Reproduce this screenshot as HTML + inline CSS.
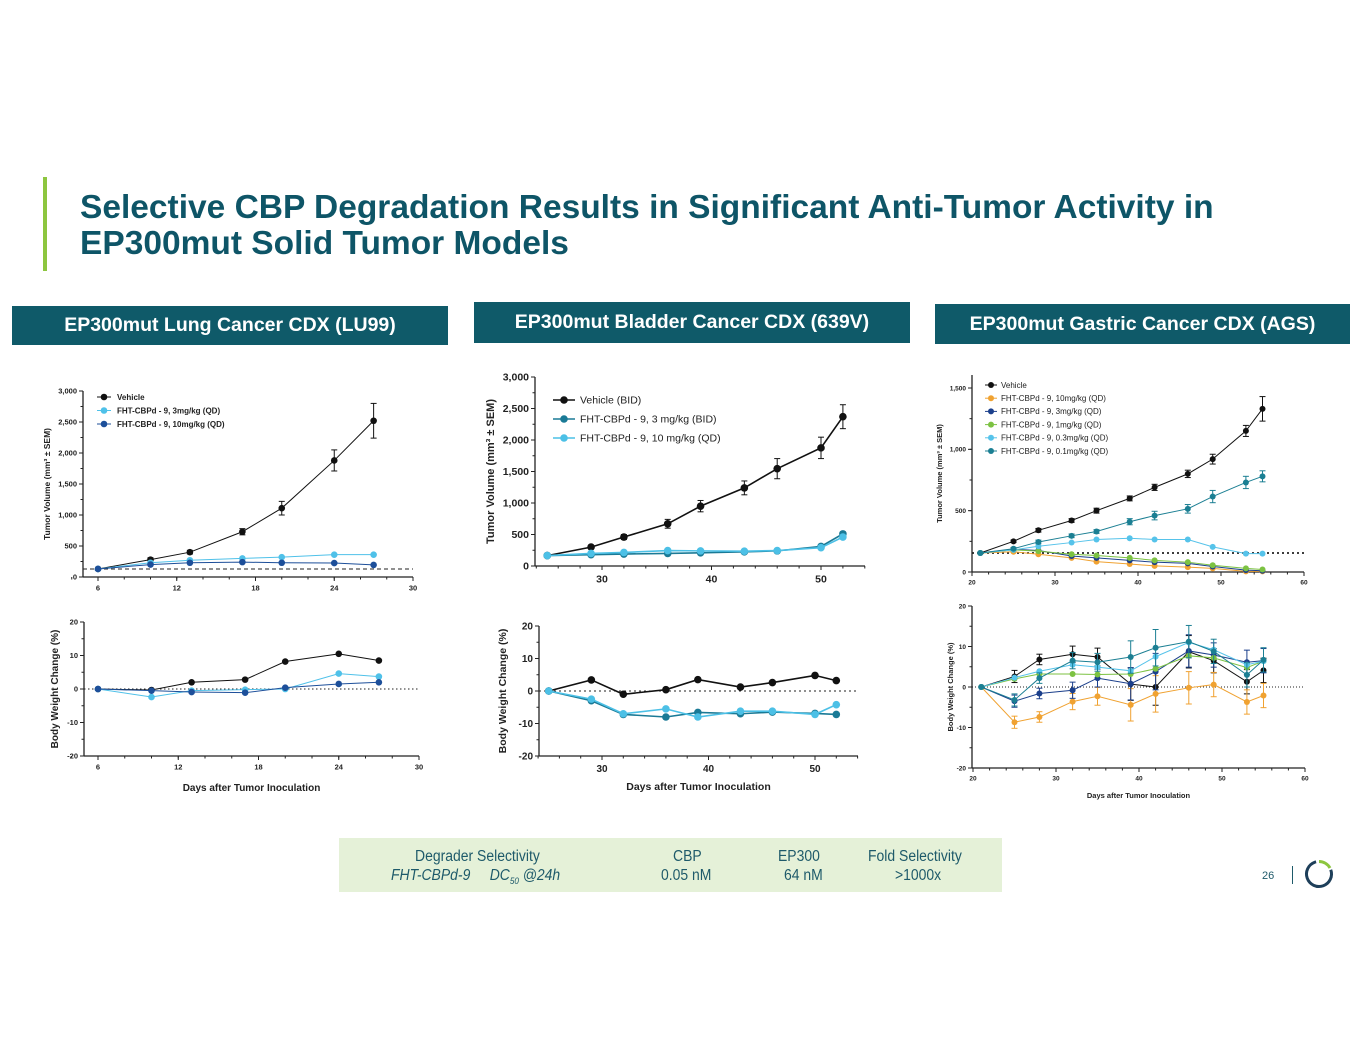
<!DOCTYPE html>
<html><head><meta charset="utf-8">
<style>
body{margin:0;background:#fff;font-family:"Liberation Sans",Arial,sans-serif;}
#page{position:relative;width:1365px;height:1055px;overflow:hidden;background:#fff;}
.hdr{position:absolute;background:#0f5a69;color:#fff;font-weight:bold;font-size:19.5px;display:flex;align-items:center;justify-content:center;}
svg text{font-family:"Liberation Sans",Arial,sans-serif;}
.tb{position:absolute;transform:scaleX(0.9);transform-origin:left top;white-space:nowrap}
</style></head><body>
<div id="page">
<div style="position:absolute;left:43px;top:177px;width:4px;height:94px;background:#8dc63f"></div>
<div style="position:absolute;left:80px;top:190px;color:#0e5567;font-weight:bold;font-size:33.5px;line-height:36px;white-space:nowrap">Selective CBP Degradation Results in Significant Anti-Tumor Activity in<br>EP300mut Solid Tumor Models</div>
<div class="hdr" style="left:12px;top:306px;width:436px;height:39px">EP300mut Lung Cancer CDX (LU99)</div>
<div class="hdr" style="left:474px;top:302px;width:436px;height:41px">EP300mut Bladder Cancer CDX (639V)</div>
<div class="hdr" style="left:935px;top:304px;width:415px;height:40px">EP300mut Gastric Cancer CDX (AGS)</div>
<svg id="plots" width="1365" height="1055" style="position:absolute;left:0;top:0"></svg>
<div style="position:absolute;left:339px;top:838px;width:663px;height:54px;background:#e5f1d8;color:#1e5a6a;font-size:15.5px">
 <div class="tb" style="left:76px;top:10px">Degrader Selectivity</div>
 <div class="tb" style="left:52px;top:29px;font-style:italic">FHT-CBPd-9 &nbsp;&nbsp;&nbsp;&nbsp;DC<sub style="font-size:9px">50</sub> @24h</div>
 <div class="tb" style="left:334px;top:10px">CBP</div>
 <div class="tb" style="left:322px;top:29px">0.05 nM</div>
 <div class="tb" style="left:439px;top:10px">EP300</div>
 <div class="tb" style="left:445px;top:29px">64 nM</div>
 <div class="tb" style="left:529px;top:10px">Fold Selectivity</div>
 <div class="tb" style="left:556px;top:29px">&gt;1000x</div>
</div>
<div style="position:absolute;left:1262px;top:870px;font-size:11px;color:#1e5a6a">26</div>
<div style="position:absolute;left:1292px;top:866px;width:1px;height:18px;background:#1e5a6a"></div>
<svg style="position:absolute;left:1303px;top:858px" width="32" height="32"><circle cx="16" cy="16" r="12.5" fill="none" stroke="#1e3f5a" stroke-width="3" stroke-dasharray="60 20" transform="rotate(-20 16 16)"/><path d="M16 3.5 A12.5 12.5 0 0 1 27 10" fill="none" stroke="#8dc63f" stroke-width="3"/></svg>
</div>
<script>
// ---- LU99 data ----
const luDays=[6,10,13,17,20,24,27];
const luVeh=[130,280,400,730,1110,1880,2520];
const luVehErr=[10,30,30,50,110,170,280];
const lu3=[130,230,270,300,320,360,360];
const lu10=[130,200,230,240,230,225,195];
const luBwVeh=[0,-0.3,2,2.8,8.2,10.5,8.5];
const luBw3=[0,-2.4,-0.5,-0.2,0,4.6,3.7];
const luBw10=[0,-0.5,-0.9,-1.1,0.4,1.5,2];
// ---- 639V data ----
const blDays=[25,29,32,36,39,43,46,50,52];
const blVeh=[165,300,460,670,950,1240,1545,1875,2370];
const blVehErr=[10,30,40,70,90,110,160,170,190];
const bl3=[165,180,190,200,210,225,240,310,510];
const bl10=[165,200,215,245,240,235,245,290,460];
const blBwVeh=[0,3.4,-1,0.4,3.5,1.2,2.6,4.8,3.2];
const blBw3=[0,-3,-7.2,-8,-6.6,-7,-6.5,-6.9,-7.2];
const blBw10=[0,-2.5,-7,-5.5,-8,-6.2,-6.2,-7.2,-4.2];
// ---- AGS data ----
const agDays=[21,25,28,32,35,39,42,46,49,53,55];
const agVeh=[155,250,340,420,500,600,690,800,920,1150,1330];
const agVehErr=[5,10,15,15,20,20,25,30,40,45,100];
const ag10=[155,165,145,115,85,65,50,40,30,5,5];
const ag3=[155,185,175,130,115,95,80,70,45,15,10];
const ag1=[155,180,170,145,135,115,95,80,55,30,20];
const ag03=[155,180,210,240,265,275,265,265,205,150,150];
const ag01=[155,190,245,295,330,410,460,515,615,730,780];
const ag01Err=[5,10,15,15,15,25,35,35,50,50,45];
const agBwVeh=[0,2.6,6.8,8.1,7.4,0.7,0,8.7,6.5,1.3,4.1];
const agBw10=[0,-8.7,-7.4,-3.6,-2.3,-4.4,-1.7,-0.2,0.6,-3.7,-2.1];
const agBw3=[0,-3.5,-1.6,-0.8,2.2,0.8,3.8,8.9,7.9,6.1,6.5];
const agBw1=[0,2,3.2,3.2,3.1,3.2,4.5,7.7,7.2,4.8,6.4];
const agBw03=[0,2.3,3.9,5.5,4.9,4,7.5,11,9.2,5.5,6.4];
const agBw01=[0,-3.2,2.2,6.5,6.1,7.4,9.7,11.2,8.8,3,6.7];
const agBwErr=[0,1.5,1.3,2,2.2,4,4.5,4,3,3,3];
// tick labels
const volTicks3000=[0,500,1000,1500,2000,2500,3000];
const volTicks1500=[0,500,1000,1500];
const bwTicks=[-20,-10,0,10,20];
const luXTicks=[6,12,18,24,30];
const blXTicks=[30,40,50];
const agXTicks=[20,30,40,50,60];

const NS='http://www.w3.org/2000/svg';
const svg=document.getElementById('plots');
function mk(tag,attrs,parent,name){const e=document.createElementNS(NS,tag);for(const k in attrs)e.setAttribute(k,attrs[k]);(parent||svg).appendChild(e);


return e;}
function fmt(v){return v>=1000?Math.floor(v/1000)+','+String(v%1000).padStart(3,'0'):String(v);}

function chart(c){
  const g=mk('g',{},svg,c.name);
  const sx=v=>c.px0+(v-c.x0)/(c.x1-c.x0)*(c.px1-c.px0);
  const sy=v=>c.py0+(v-c.y0)/(c.y1-c.y0)*(c.py1-c.py0);
  const fs=c.fs;
  mk('line',{x1:c.ax,y1:c.axTop,x2:c.ax,y2:c.py0,stroke:'#222','stroke-width':1.3},g,'y-axis');
  mk('line',{x1:c.ax,y1:c.py0,x2:c.axEnd,y2:c.py0,stroke:'#222','stroke-width':1.3},g,'x-axis');
  c.yTicks.forEach(v=>{const y=sy(v);mk('line',{x1:c.ax-4,y1:y,x2:c.ax,y2:y,stroke:'#222'},g,'y-tick');
    const t=mk('text',{x:c.ax-6,y:y+fs*0.35,'text-anchor':'end','font-size':fs,'font-weight':'bold',fill:'#222'},g,'y-tick-label');t.textContent=fmt(v);});
  if(c.yMinor)for(let v=c.y0;v<=c.y1;v+=c.yMinor){const y=sy(v);mk('line',{x1:c.ax-2.5,y1:y,x2:c.ax,y2:y,stroke:'#222'},g,'y-minor-tick');}
  c.xTicks.forEach(v=>{const x=sx(v);mk('line',{x1:x,y1:c.py0,x2:x,y2:c.py0+4,stroke:'#222'},g,'x-tick');
    const t=mk('text',{x:x,y:c.py0+6+fs,'text-anchor':'middle','font-size':fs,'font-weight':'bold',fill:'#222'},g,'x-tick-label');t.textContent=v;});
  if(c.xMinor)for(let v=c.xMinorStart;sx(v)<=c.axEnd+0.5;v+=c.xMinor){const x=sx(v);mk('line',{x1:x,y1:c.py0,x2:x,y2:c.py0+2.5,stroke:'#222'},g,'x-minor-tick');}
  if(c.ref!==undefined){mk('line',{x1:c.ax,y1:sy(c.ref),x2:c.axEnd,y2:sy(c.ref),stroke:'#222','stroke-width':c.refW||1,'stroke-dasharray':c.refDash},g,'reference-line');}
  const yt=mk('text',{x:0,y:0,'text-anchor':'middle','font-size':c.tfs,'font-weight':'bold',fill:'#222',transform:`translate(${c.ytX},${(c.axTop+c.py0)/2}) rotate(-90)`},g,'y-axis-title');yt.textContent=c.ytitle;
  if(c.xtitle){const xt=mk('text',{x:(c.ax+c.axEnd)/2,y:c.xtY,'text-anchor':'middle','font-size':c.tfs,'font-weight':'bold',fill:'#222'},g,'x-axis-title');xt.textContent=c.xtitle;}
  c.series.forEach(s=>{
    const sg=mk('g',{},g,s.name);
    const pts=c.days.map((d,i)=>sx(d)+','+sy(s.v[i])).join(' ');
    mk('polyline',{points:pts,fill:'none',stroke:s.col,'stroke-width':c.lw},sg,s.name+'-line');
    c.days.forEach((d,i)=>{
      if(s.err){const e=s.err[i];const x=sx(d);
        mk('line',{x1:x,y1:sy(s.v[i]-e),x2:x,y2:sy(s.v[i]+e),stroke:s.col},sg,'error-bar');
        mk('line',{x1:x-3,y1:sy(s.v[i]+e),x2:x+3,y2:sy(s.v[i]+e),stroke:s.col},sg,'error-cap');
        mk('line',{x1:x-3,y1:sy(s.v[i]-e),x2:x+3,y2:sy(s.v[i]-e),stroke:s.col},sg,'error-cap');}
      mk('circle',{cx:sx(d),cy:sy(s.v[i]),r:c.r,fill:s.col},sg,s.name+'-point');
    });
  });
  if(c.legend){c.series.forEach((s,i)=>{const y=c.legend.y+i*c.legend.dy;const lx=c.legend.x;
    mk('line',{x1:lx,y1:y,x2:lx+c.legend.w,y2:y,stroke:s.col,'stroke-width':c.lw},g,'legend-line');
    mk('circle',{cx:lx+c.legend.w/2,cy:y,r:c.r,fill:s.col},g,'legend-marker');
    const t=mk('text',{x:lx+c.legend.w+c.legend.gap,y:y+c.legend.fs*0.35,'font-size':c.legend.fs,'font-weight':c.legend.bold?'bold':'normal',fill:'#222'},g,'legend-entry');t.textContent=s.label;});}
}
chart({name:'lu99-tumor-volume',days:luDays,x0:6,x1:30,px0:98,px1:413,y0:0,y1:3000,py0:577,py1:391,ax:83,axTop:391,axEnd:413,
 yTicks:volTicks3000,yMinor:250,xTicks:luXTicks,xMinor:2,xMinorStart:4,fs:7.5,tfs:8.5,lw:1,r:3.3,ref:130,refDash:'4 3',
 ytitle:'Tumor Volume (mm³ ± SEM)',ytX:50,
 series:[{name:'vehicle',label:'Vehicle',col:'#111',v:luVeh,err:luVehErr},{name:'dose-3mg',label:'FHT-CBPd - 9, 3mg/kg (QD)',col:'#4fc1e9',v:lu3},{name:'dose-10mg',label:'FHT-CBPd - 9, 10mg/kg (QD)',col:'#1d4f9a',v:lu10}],
 legend:{x:97,y:397,dy:13.5,w:14,gap:6,fs:8,bold:true}});
chart({name:'lu99-body-weight',days:luDays,x0:6,x1:30,px0:98,px1:419,y0:-20,y1:20,py0:756,py1:622,ax:84,axTop:622,axEnd:419,
 yTicks:bwTicks,yMinor:5,xTicks:luXTicks,xMinor:2,xMinorStart:4,fs:7.5,tfs:10,lw:1,r:3.3,ref:0,refDash:'1.5 2.5',
 ytitle:'Body Weight Change (%)',ytX:58,xtitle:'Days after Tumor Inoculation',xtY:791,
 series:[{name:'vehicle',col:'#111',v:luBwVeh},{name:'dose-3mg',col:'#4fc1e9',v:luBw3},{name:'dose-10mg',col:'#1d4f9a',v:luBw10}]});
chart({name:'bladder-tumor-volume',days:blDays,x0:30,x1:50,px0:602,px1:821,y0:0,y1:3000,py0:566,py1:377,ax:535,axTop:377,axEnd:865,
 yTicks:volTicks3000,yMinor:250,xTicks:blXTicks,xMinor:2,xMinorStart:24,fs:10.5,tfs:11,lw:1.6,r:3.8,
 ytitle:'Tumor Volume (mm³ ± SEM)',ytX:494,
 series:[{name:'vehicle',label:'Vehicle (BID)',col:'#111',v:blVeh,err:blVehErr},{name:'dose-3mg',label:'FHT-CBPd - 9, 3 mg/kg (BID)',col:'#1a7a96',v:bl3},{name:'dose-10mg',label:'FHT-CBPd - 9, 10 mg/kg (QD)',col:'#4cc0e6',v:bl10}],
 legend:{x:553,y:400,dy:19,w:22,gap:5,fs:10.5,bold:false}});
chart({name:'bladder-body-weight',days:blDays,x0:30,x1:50,px0:602,px1:815,y0:-20,y1:20,py0:756,py1:626,ax:539,axTop:626,axEnd:858,
 yTicks:bwTicks,yMinor:5,xTicks:blXTicks,xMinor:2,xMinorStart:24,fs:10,tfs:10.5,lw:1.6,r:3.8,ref:0,refDash:'2 3',
 ytitle:'Body Weight Change (%)',ytX:506,xtitle:'Days after Tumor Inoculation',xtY:790,
 series:[{name:'vehicle',col:'#111',v:blBwVeh},{name:'dose-3mg',col:'#1a7a96',v:blBw3},{name:'dose-10mg',col:'#4cc0e6',v:blBw10}]});
chart({name:'gastric-tumor-volume',days:agDays,x0:20,x1:60,px0:972,px1:1304,y0:0,y1:1500,py0:572,py1:388,ax:972,axTop:375,axEnd:1304,
 yTicks:volTicks1500,yMinor:250,xTicks:agXTicks,xMinor:2,xMinorStart:20,fs:6.5,tfs:7.5,lw:1,r:3,ref:155,refDash:'2 3',refW:1.8,
 ytitle:'Tumor Volume (mm³ ± SEM)',ytX:942,
 series:[{name:'vehicle',label:'Vehicle',col:'#111',v:agVeh,err:agVehErr},{name:'dose-10mg',label:'FHT-CBPd - 9, 10mg/kg (QD)',col:'#f0a231',v:ag10},{name:'dose-3mg',label:'FHT-CBPd - 9, 3mg/kg (QD)',col:'#1b3f8b',v:ag3},{name:'dose-1mg',label:'FHT-CBPd - 9, 1mg/kg (QD)',col:'#7cc242',v:ag1},{name:'dose-0-3mg',label:'FHT-CBPd - 9, 0.3mg/kg (QD)',col:'#56c3ea',v:ag03},{name:'dose-0-1mg',label:'FHT-CBPd - 9, 0.1mg/kg (QD)',col:'#1b7f93',v:ag01,err:ag01Err}],
 legend:{x:985,y:385,dy:13.2,w:12,gap:4,fs:8,bold:false}});
chart({name:'gastric-body-weight',days:agDays,x0:20,x1:60,px0:973,px1:1305,y0:-20,y1:20,py0:768,py1:606,ax:972,axTop:606,axEnd:1305,
 yTicks:bwTicks,yMinor:5,xTicks:agXTicks,xMinor:2,xMinorStart:20,fs:6.5,tfs:7.5,lw:1,r:3,ref:0,refDash:'1 2',
 ytitle:'Body Weight Change (%)',ytX:953,xtitle:'Days after Tumor Inoculation',xtY:798,
 series:[{name:'vehicle',col:'#111',v:agBwVeh,err:agBwErr},{name:'dose-10mg',col:'#f0a231',v:agBw10,err:agBwErr},{name:'dose-3mg',col:'#1b3f8b',v:agBw3,err:agBwErr},{name:'dose-1mg',col:'#7cc242',v:agBw1},{name:'dose-0-3mg',col:'#56c3ea',v:agBw03},{name:'dose-0-1mg',col:'#1b7f93',v:agBw01,err:agBwErr}]});
</script>
</body></html>
